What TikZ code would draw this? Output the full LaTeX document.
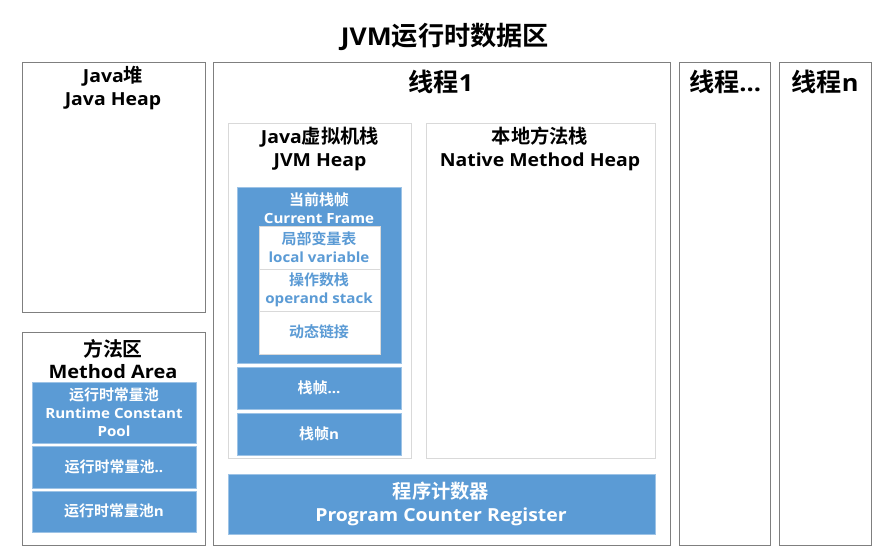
\documentclass[tikz,border=0pt]{standalone}
\usepackage{fontspec}
\setmainfont{Open Sans}[FakeStretch=1.08]
\newfontfamily\zhfont{Noto Sans CJK SC}[Scale=1.07,BoldFont={Noto Sans CJK SC Bold}]
\newcommand{\zhs}[1]{{\zhfont\bfseries #1}}
\definecolor{blueA}{HTML}{5B9BD5}
\definecolor{edgeA}{HTML}{7F7F7F}
\definecolor{edgeB}{HTML}{D9D9D9}
\tikzset{
  outerbox/.style={draw=edgeA, line width=0.9pt, anchor=north west, inner sep=0pt},
  panelbox/.style={draw=edgeB, line width=0.7pt, fill=white, anchor=north west, inner sep=0pt},
  bluebox/.style={fill=blueA, draw=blueA!60!white, line width=0.6pt, anchor=north west, inner sep=0pt},
  whitebox/.style={fill=white, draw=edgeB, line width=0.6pt, anchor=north west, inner sep=0pt},
  bigtxt/.style={font=\fontsize{24.5}{28}\selectfont\bfseries, align=center, inner sep=0pt},
  midtxt/.style={font=\fontsize{18}{23}\selectfont\bfseries, align=center, inner sep=0pt},
  smalltxt/.style={font=\fontsize{14}{18}\selectfont\bfseries, align=center, inner sep=0pt, text=white},
  bluetxt/.style={font=\fontsize{14}{18}\selectfont\bfseries, align=center, inner sep=0pt, text=blueA},
}
\begin{document}
\begin{tikzpicture}[x=1pt,y=-1pt]
\useasboundingbox[fill=white] (0,0) rectangle (887,559);
% title
\node[bigtxt] (title) at (445,37) {JVM\zhs{运行时数据区}};
% outer boxes
\node[outerbox, minimum width=183pt, minimum height=250pt] (heap) at (22,62) {};
\node[outerbox, minimum width=183pt, minimum height=213pt] (method) at (22,332) {};
\node[outerbox, minimum width=457pt, minimum height=483pt] (t1) at (213,62) {};
\node[outerbox, minimum width=91pt, minimum height=483pt] (tdots) at (679,62) {};
\node[outerbox, minimum width=92pt, minimum height=483pt] (tn) at (779,62) {};
% thread labels
\node[bigtxt, font=\fontsize{23.5}{28}\selectfont\bfseries] (t1lab) at (441,82) {\zhs{线程}1};
\node[bigtxt, font=\fontsize{23.5}{28}\selectfont\bfseries] (tdotslab) at (725,82) {\zhs{线程}...};
\node[bigtxt, font=\fontsize{23.5}{28}\selectfont\bfseries] (tnlab) at (825,82) {\zhs{线程}n};
% heap label
\node[midtxt] (heaplab) at (113,88) {Java\zhs{堆}\\Java Heap};
% inner panels
\node[panelbox, minimum width=183pt, minimum height=335pt] (jvms) at (228,123) {};
\node[panelbox, minimum width=229pt, minimum height=335pt] (native) at (426,123) {};
\node[midtxt] (jvmslab) at (320,149) {Java\zhs{虚拟机栈}\\JVM Heap};
\node[midtxt] (nativelab) at (540,149) {\zhs{本地方法栈}\\Native Method Heap};
% current frame
\node[bluebox, minimum width=164pt, minimum height=176pt] (cur) at (237,187) {};
\node[smalltxt] (curlab) at (319,208) {\zhs{当前栈帧}\\Current Frame};
\node[whitebox, minimum width=121pt, minimum height=128pt] (inner) at (259,226) {};
\coordinate (d1l) at (259,269); \coordinate (d1r) at (380,269);
\coordinate (d2l) at (259,311); \coordinate (d2r) at (380,311);
\draw[edgeB, line width=0.6pt] (d1l) -- (d1r);
\draw[edgeB, line width=0.6pt] (d2l) -- (d2r);
\node[bluetxt] (lv) at (319,247) {\zhs{局部变量表}\\local variable};
\node[bluetxt] (os) at (319,290) {\zhs{操作数栈}\\operand stack};
\node[bluetxt] (dl) at (319,332) {\zhs{动态链接}};
\node[bluebox, minimum width=164pt, minimum height=42pt] (f2) at (237,367) {};
\node[smalltxt] (f2lab) at (319,388) {\zhs{栈帧}...};
\node[bluebox, minimum width=164pt, minimum height=42pt] (fn) at (237,413) {};
\node[smalltxt] (fnlab) at (319,434) {\zhs{栈帧}n};
% program counter
\node[bluebox, minimum width=427pt, minimum height=60pt] (pc) at (228,474) {};
\node[midtxt, text=white] (pclab) at (441,504) {\zhs{程序计数器}\\Program Counter Register};
% method area
\node[midtxt, font=\fontsize{18.5}{22}\selectfont\bfseries] (methodlab) at (113,359) {\zhs{方法区}\\Method Area};
\node[bluebox, minimum width=164pt, minimum height=61pt] (m1) at (32,382) {};
\node[smalltxt] (m1lab) at (114,412) {\zhs{运行时常量池}\\Runtime Constant\\Pool};
\node[bluebox, minimum width=164pt, minimum height=42pt] (m2) at (32,446) {};
\node[smalltxt] (m2lab) at (114,467) {\zhs{运行时常量池}..};
\node[bluebox, minimum width=164pt, minimum height=41pt] (m3) at (32,491) {};
\node[smalltxt] (m3lab) at (114,511) {\zhs{运行时常量池}n};
\end{tikzpicture}
\end{document}
